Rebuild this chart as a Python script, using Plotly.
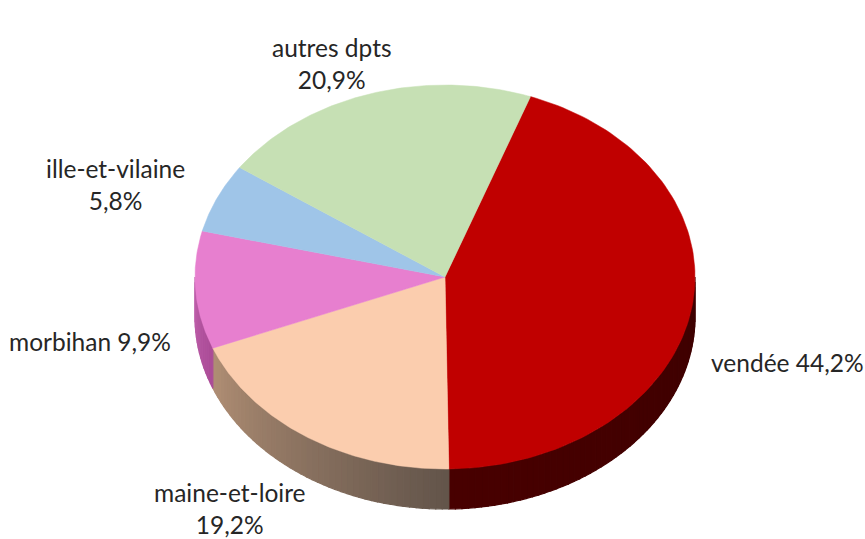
import numpy as np
import plotly.graph_objects as go

departments = ["vendée", "maine-et-loire", "morbihan", "ille-et-vilaine", "autres dpts"]
shares = [44.2, 19.2, 9.9, 5.8, 20.9]
share_text = ["44,2%", "19,2%", "9,9%", "5,8%", "20,9%"]
top_colors = ["#C00000", "#FBCDAE", "#E77FCF", "#9FC5E8", "#C6E0B4"]
wall_left = [(72, 0, 0), (176, 142, 116), (190, 95, 170), (130, 160, 190), (160, 180, 145)]
wall_right = [(62, 0, 0), (98, 84, 74), (170, 75, 150), (130, 160, 190), (160, 180, 145)]

label_text = ["vendée 44,2%", "maine-et-loire<br>19,2%", "morbihan 9,9%", "ille-et-vilaine<br>5,8%", "autres dpts<br>20,9%"]
label_x = [787, 230, 90, 115, 332]
label_y = [362, 508, 341, 184, 63]

W, H = 865, 539
CX, CY, RX, RY, DEPTH = 445, 277, 250, 192, 40
START = 20.0


def rim(a_deg, dy=0.0):
    a = np.radians(a_deg)
    return CX + RX * np.sin(a), CY - RY * np.cos(a) + dy


fig = go.Figure()
edges = START + np.concatenate([[0], np.cumsum(shares)]) * 360 / sum(shares)


def rgb(c):
    return "rgb(%d,%d,%d)" % tuple(int(round(v)) for v in c)


# side walls (only the front half of the disc is visible)
for i in range(len(shares)):
    a0, a1 = max(edges[i], 90), min(edges[i + 1], 270)
    if a1 <= a0:
        continue
    n = max(1, int((a1 - a0) / 1.5))
    steps = np.linspace(a0, a1, n + 1)
    for j in range(n):
        t = (j + 0.5) / n
        col = [wall_right[i][k] * (1 - t) + wall_left[i][k] * t for k in range(3)]
        arc = np.linspace(steps[j], steps[j + 1], 4)
        xt, yt = rim(arc)
        xb, yb = rim(arc[::-1], DEPTH)
        fig.add_trace(go.Scatter(
            x=np.r_[xt, xb, xt[0]], y=np.r_[yt, yb, yt[0]], mode="lines", fill="toself",
            fillcolor=rgb(col), line=dict(width=1.2, color=rgb(col)), hoverinfo="skip", showlegend=False))

# top faces
for i in range(len(shares)):
    arc = np.linspace(edges[i], edges[i + 1], 120)
    xs, ys = rim(arc)
    fig.add_trace(go.Scatter(
        x=np.r_[CX, xs, CX], y=np.r_[CY, ys, CY], mode="lines", fill="toself",
        fillcolor=top_colors[i], line=dict(width=0.5, color=top_colors[i]),
        name=departments[i], text=share_text[i], hoverinfo="name+text", showlegend=False))

for txt, x, y in zip(label_text, label_x, label_y):
    fig.add_annotation(x=x, y=y, text=txt, showarrow=False, xanchor="center", yanchor="middle",
                       font=dict(family="Lato, Carlito, sans-serif", size=24.5, color="#262626"), align="center")

fig.update_xaxes(range=[0, W], visible=False, fixedrange=True)
fig.update_yaxes(range=[H, 0], visible=False, fixedrange=True)
fig.update_layout(width=W, height=H, margin=dict(l=0, r=0, t=0, b=0),
                  paper_bgcolor="white", plot_bgcolor="white", showlegend=False)
fig.write_html("out.html", config={"displayModeBar": False},
               post_script="document.body.style.margin='0';document.body.style.overflow='hidden';")
